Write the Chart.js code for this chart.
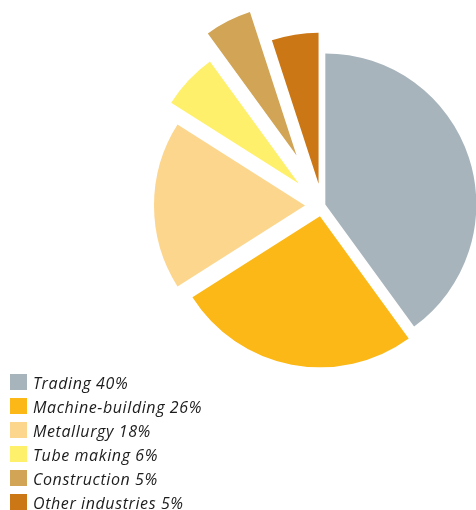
<!DOCTYPE html>
<html lang="en">
<head>
  <meta charset="UTF-8">
  <title>Industries</title>
  <script src="https://cdn.jsdelivr.net/npm/chart.js"></script>
  <style>
    body { margin: 0; background: #fff; }
    #wrap { position: relative; width: 476px; height: 510px; overflow: hidden; }
    #legend { position: absolute; left: 10px; top: 373px; margin: 0; padding: 0; list-style: none;
              font-family: "Open Sans", sans-serif; font-style: italic; font-size: 16px;
              letter-spacing: 0.6px; color: #1c1c1c; }
    #legend li { display: flex; align-items: flex-end; height: 17px; margin-bottom: 7px; white-space: nowrap; }
    #legend span.box { display: inline-block; width: 17px; height: 16px; margin-right: 6px; }
    #legend span.txt { line-height: 16px; position: relative; top: 1px; }
  </style>
</head>
<body>
  <div id="wrap">
    <canvas id="pie" width="476" height="510"></canvas>
    <ul id="legend"></ul>
  </div>

  <script>
    // 업종별 비중 (%)
    const labels = ['Trading', 'Machine-building', 'Metallurgy', 'Tube making', 'Construction', 'Other industries'];
    const shares = [40, 26, 18, 6, 5, 5];
    const colors = ['#a8b4bc', '#fbb817', '#fdd68e', '#fef06b', '#d1a456', '#cc7716'];
    // 조각별로 중심에서 밀어내는 거리(px)
    const sliceShift = [3.5, 11, 17, 32, 56, 22];
    const pieRadius = 151;

    // offset 옵션은 작은 조각 모양을 바꿔서, 중심점만 이동시킴
    const explode = {
      id: 'explode',
      afterDatasetUpdate(chart, args) {
        args.meta.data.forEach((arc, i) => {
          const mid = (arc.startAngle + arc.endAngle) / 2;
          arc.x += Math.cos(mid) * sliceShift[i];
          arc.y += Math.sin(mid) * sliceShift[i];
        });
      }
    };

    const ctx = document.getElementById('pie').getContext('2d');
    const pie = new Chart(ctx, {
      type: 'pie',
      data: {
        labels: labels,
        datasets: [{
          data: shares,
          backgroundColor: colors,
          borderWidth: 0,
          radius: pieRadius
        }]
      },
      options: {
        responsive: false,
        animation: false,
        layout: { padding: { left: 170, right: 2, top: 0, bottom: 99 } },
        plugins: {
          legend: { display: false },
          tooltip: { enabled: false }
        }
      },
      plugins: [explode]
    });

    // 범례는 html로
    const ul = document.getElementById('legend');
    labels.forEach((name, i) => {
      const li = document.createElement('li');
      li.innerHTML = '<span class="box" style="background:' + colors[i] + '"></span>' +
                     '<span class="txt">' + name + ' ' + shares[i] + '%</span>';
      ul.appendChild(li);
    });
  </script>
</body>
</html>
